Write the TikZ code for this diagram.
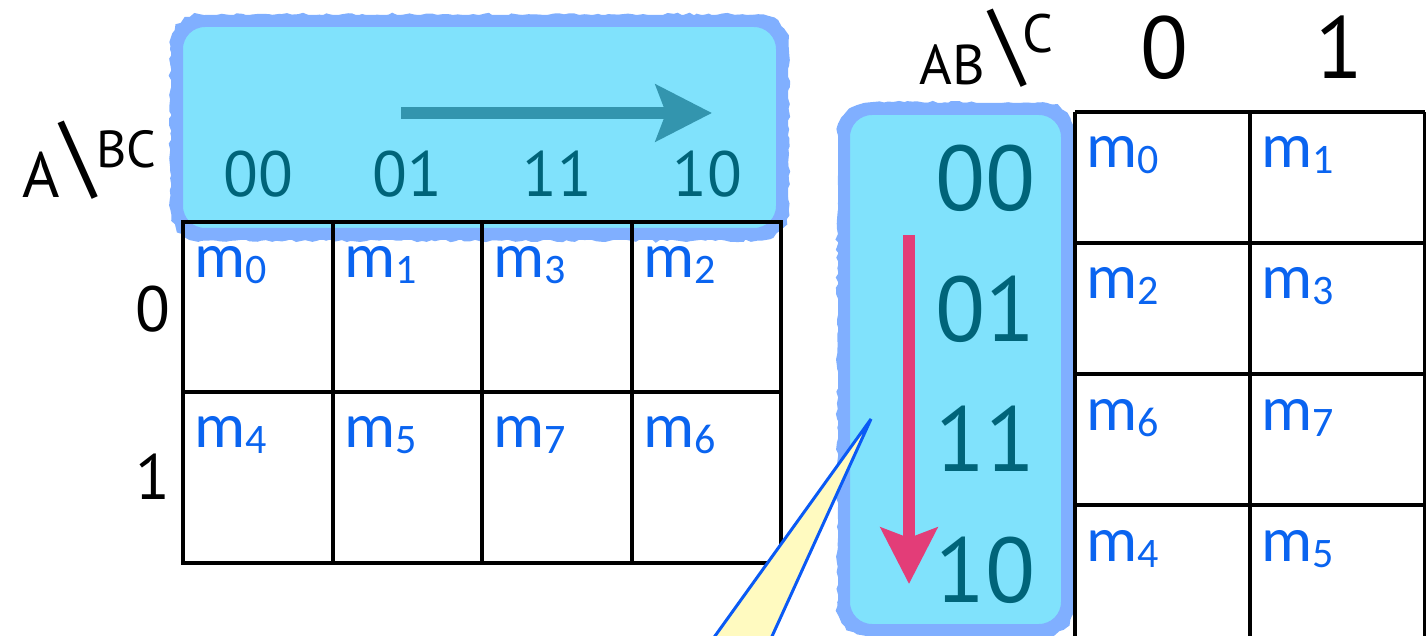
\documentclass[tikz,border=0pt]{standalone}
\usepackage{fontspec}
\setmainfont{PT Sans}
\newfontfamily\mfont{Carlito}
\usetikzlibrary{arrows.meta,decorations.pathmorphing,shadows}
\definecolor{hlfill}{HTML}{80E2FC}
\definecolor{hledge}{HTML}{80AFFF}
\definecolor{bitcol}{HTML}{006479}
\definecolor{tealarrow}{HTML}{3395AE}
\definecolor{pinkarrow}{HTML}{E33D78}
\definecolor{mcol}{HTML}{0A64F0}
\definecolor{notefill}{HTML}{FFFAC0}
\definecolor{noteedge}{HTML}{0A5AF5}
\tikzset{
  cell/.style={draw=black, line width=2pt},
  hilite/.style={fill=hlfill, draw=hledge, line width=6pt, rounded corners=14pt},
  fuzz/.style={draw=hledge, line width=2.5pt, decorate,
    decoration={random steps, segment length=2.5pt, amplitude=0.8pt}},
  mlabel/.style={anchor=base west, inner sep=0pt, text=mcol,
    font=\mfont\fontsize{32}{32}\selectfont},
  hbits/.style={text=bitcol, inner sep=0pt, anchor=base, font=\fontsize{32}{32}\selectfont},
  vbits/.style={text=bitcol, inner sep=0pt, anchor=base east, font=\fontsize{46}{46}\selectfont},
  colhead/.style={inner sep=0pt, anchor=base, font=\fontsize{44}{44}\selectfont},
  rowhead/.style={inner sep=0pt, anchor=base, font=\fontsize{32}{32}\selectfont},
  varname/.style={inner sep=0pt, anchor=base west},
  slash/.style={inner sep=0pt, font=\fontsize{46}{46}\selectfont},
  flow/.style={line width=6pt},
  note/.style={fill=notefill, draw=noteedge, line width=1.5pt,
    drop shadow={shadow xshift=-2pt, shadow yshift=-2pt, opacity=0.25}},
}
\newcommand{\mterm}[1]{m\raisebox{-3pt}{\fontsize{21}{21}\selectfont #1}}

\begin{document}
\begin{tikzpicture}[x=0.5pt,y=-0.5pt]
  \useasboundingbox (0,0) rectangle (1426,636);
  \clip (0,0) rectangle (1426,636);

  % highlighted Gray code rows and columns
  \path[hilite] (177,21) rectangle (782,234);
  \draw[fuzz] (173,17) [rounded corners=14pt] rectangle (786,238) [sharp corners];
  \path[hilite] (844,109) rectangle (1067,630);
  \draw[fuzz] (840,105) [rounded corners=14pt] rectangle (1071,634) [sharp corners];

  % 2x4 map, A \ BC
  \draw[cell] (183,222) rectangle (781,563);
  \foreach \x in {333,482,632} \draw[cell] (\x,222) -- (\x,563);
  \draw[cell] (183,392) -- (781,392);
  \foreach \i/\x/\k in {0/183/0,1/333/1,2/482/3,3/632/2}
    \node[mlabel] (mL\k) at (\x+11,278) {\mterm{\k}};
  \foreach \i/\x/\k in {0/183/4,1/333/5,2/482/7,3/632/6}
    \node[mlabel] (mL\k) at (\x+11,448) {\mterm{\k}};

  % 4x2 map, AB \ C
  \foreach \x in {1075,1250,1425} \draw[cell] (\x,112) -- (\x,660);
  \foreach \y in {112,243,374,505} \draw[cell] (1075,\y) -- (1425,\y);
  \foreach \y/\k/\j in {112/0/1,243/2/3,374/6/7,505/4/5} {
    \node[mlabel] (mR\k) at (1086,\y+56) {\mterm{\k}};
    \node[mlabel] (mR\j) at (1261,\y+56) {\mterm{\j}};
  }

  % pointer of a callout
  \coordinate (tip) at (871,419);
  \coordinate (baseL) at (669,700);
  \coordinate (baseR) at (743,700);
  \filldraw[note] (tip) -- (baseL) -- (baseR) -- cycle;

  % arrows along the Gray code
  \coordinate (hs) at (401,113);
  \coordinate (he) at (712,113);
  \draw[flow, tealarrow, -{Stealth[length=28pt, width=28pt, inset=5pt]}] (hs) -- (he);
  \coordinate (vs) at (909,235);
  \coordinate (ve) at (909,584);
  \draw[flow, pinkarrow, -{Stealth[length=28pt, width=28pt, inset=5pt]}] (vs) -- (ve);

  % labels
  \foreach \x/\b in {258/00,407/01,557/11,707/10}
    \node[hbits] (h\b) at (\x,197) {\b};
  \foreach \y/\b in {211/00,342/01,472/11,603/10}
    \node[vbits] (v\b) at (1036,\y) {\b};
  \node[colhead] (c0) at (1164,79) {0};
  \node[colhead] (c1) at (1339,79) {1};
  \node[rowhead] (r0) at (153,332) {0};
  \node[rowhead] (r1) at (153,500) {1};

  \node[varname, font=\fontsize{32}{32}\selectfont] (vA) at (22,198) {A};
  \node[slash] (s1) at (79,160) {\textbackslash};
  \node[varname, font=\fontsize{26}{26}\selectfont] (vBC) at (96,168) {BC};
  \node[varname, font=\fontsize{28}{28}\selectfont] (vAB) at (919,85) {AB};
  \node[slash] (s2) at (1008,48) {\textbackslash};
  \node[varname, font=\fontsize{27}{27}\selectfont] (vC) at (1022,53) {C};
\end{tikzpicture}
\end{document}
